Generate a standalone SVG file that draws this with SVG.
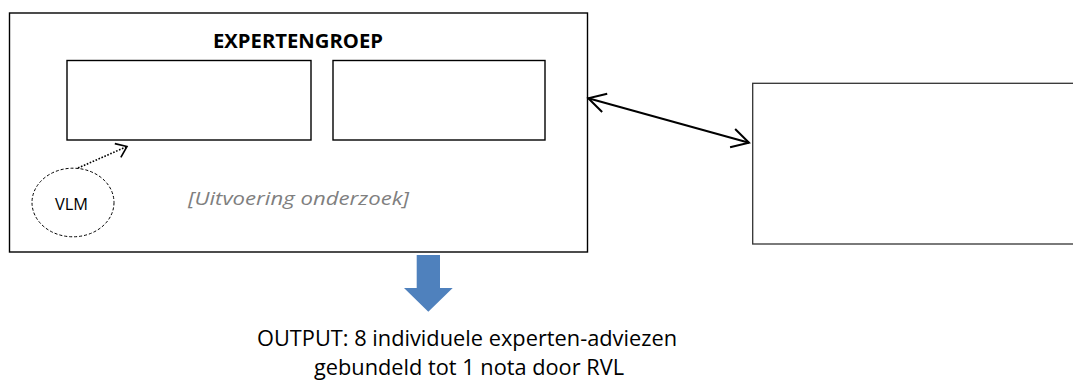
<svg xmlns="http://www.w3.org/2000/svg" width="1073" height="381" viewBox="0 0 1073 381">
<style>
.box{fill:#fff;stroke:#000;stroke-width:1.4}
.rbox{fill:#fff;stroke:#333;stroke-width:1.3}
.t{font-family:"Open Sans","Liberation Sans",sans-serif;fill:#000}
.conn{fill:none;stroke:#000}
</style>
<defs>
<marker id="open" markerUnits="userSpaceOnUse" viewBox="-20 -12 22 24" refX="0" refY="0" markerWidth="22" markerHeight="24" orient="auto-start-reverse" overflow="visible">
<path d="M-17,-9.5 L0,0 L-17,9.5" fill="none" stroke="#000" stroke-width="2"/>
</marker>
<marker id="openS" markerUnits="userSpaceOnUse" viewBox="-14 -9 16 18" refX="0" refY="0" markerWidth="16" markerHeight="18" orient="auto" overflow="visible">
<path d="M-10,-7.5 L0,0 L-10,7.5" fill="none" stroke="#000" stroke-width="1.6"/>
</marker>
</defs>
<rect width="1073" height="381" fill="#fff"/>
<g id="expertengroep">
<rect class="box" x="9.5" y="13" width="578" height="239"/>
<text class="t" x="298" y="48" font-size="19" font-weight="bold" text-anchor="middle" textLength="170" lengthAdjust="spacingAndGlyphs">EXPERTENGROEP</text>
<text class="t" x="298.5" y="205" font-size="19" font-style="italic" fill="#7f7f7f" style="fill:#7f7f7f" text-anchor="middle" textLength="221" lengthAdjust="spacingAndGlyphs">[Uitvoering onderzoek]</text>
</g>
<g id="box1">
<rect class="box" x="67" y="60.5" width="244" height="79.5"/>
</g>
<g id="box2">
<rect class="box" x="333" y="60.5" width="212" height="79.5"/>
</g>
<g id="vlm">
<ellipse cx="73" cy="202.5" rx="41" ry="34.3" fill="#fff" stroke="#000" stroke-width="1" stroke-dasharray="3 2"/>
<text class="t" x="71.5" y="210" font-size="16" text-anchor="middle" textLength="33" lengthAdjust="spacingAndGlyphs">VLM</text>
</g>
<g id="rightbox">
<rect class="rbox" x="752.7" y="83.3" width="330" height="160.7"/>
</g>
<g id="output">
<polygon points="416.7,255 440,255 440,288 452.7,288 428.3,311.7 404,288 416.7,288" fill="#4F81BD"/>
<text class="t" x="467" y="346" font-size="22" text-anchor="middle" textLength="420" lengthAdjust="spacingAndGlyphs">OUTPUT: 8 individuele experten-adviezen</text>
<text class="t" x="469" y="375" font-size="22" text-anchor="middle" textLength="310" lengthAdjust="spacingAndGlyphs">gebundeld tot 1 nota door RVL</text>
</g>
<g id="connectors">
<line class="conn" x1="588.3" y1="98.3" x2="749" y2="142.7" stroke-width="2" marker-start="url(#open)" marker-end="url(#open)"/>
<line class="conn" x1="78" y1="168" x2="127" y2="146.5" stroke-width="1.6" stroke-dasharray="1.6 1.6" marker-end="url(#openS)"/>
</g>
</svg>
